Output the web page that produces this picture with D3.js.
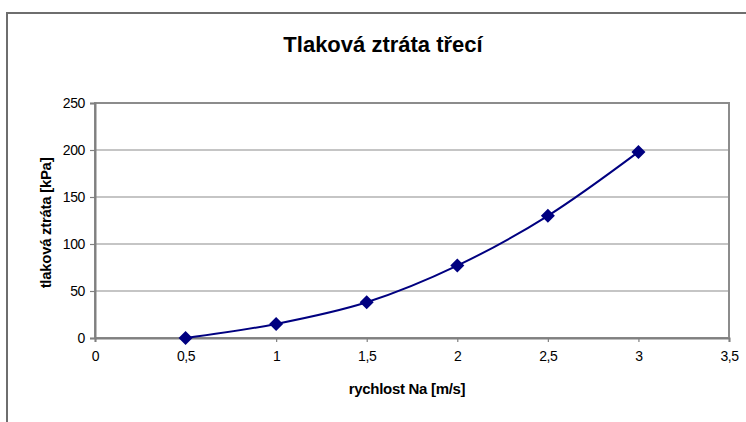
<!DOCTYPE html>
<html>
<head>
<meta charset="utf-8">
<script src="https://cdn.jsdelivr.net/npm/d3@7"></script>
<style>
  html, body { margin: 0; padding: 0; background: #fff; }
  svg { display: block; }
  text { font-family: "Liberation Sans", Arial, sans-serif; fill: #000; }
</style>
</head>
<body>
<svg id="chart" width="746" height="422"></svg>
<script>
const xValues = [0.5, 1, 1.5, 2, 2.5, 3];
const yValues = [0, 15, 38, 77, 130, 198];
const xTicks = [0, 0.5, 1, 1.5, 2, 2.5, 3, 3.5];
const yTicks = [0, 50, 100, 150, 200, 250];
const title = "Tlaková ztráta třecí";
const xTitle = "rychlost Na [m/s]";
const yTitle = "tlaková ztráta [kPa]";

const svg = d3.select("#chart");
const plot = { left: 95, right: 729, top: 103, bottom: 338 };

// outer frame
svg.append("rect")
  .attr("x", 7).attr("y", 13).attr("width", 800).attr("height", 500)
  .attr("fill", "#fff").attr("stroke", "#6e6e6e").attr("stroke-width", 2);

const x = d3.scaleLinear().domain([0, 3.5]).range([plot.left, plot.right]);
const y = d3.scaleLinear().domain([0, 250]).range([plot.bottom, plot.top]);

const fmt = d => String(d).replace(".", ",");

// gridlines
svg.append("g")
  .selectAll("line")
  .data(yTicks.filter(d => d > 0 && d < 250))
  .join("line")
  .attr("x1", plot.left).attr("x2", plot.right)
  .attr("y1", d => y(d)).attr("y2", d => y(d))
  .attr("stroke", "#8c8c8c").attr("stroke-width", 1.2);

// plot border
svg.append("rect")
  .attr("x", plot.left).attr("y", plot.top)
  .attr("width", plot.right - plot.left).attr("height", plot.bottom - plot.top)
  .attr("fill", "none").attr("stroke", "#8c8c8c").attr("stroke-width", 2);

// axes
const xAxis = svg.append("g")
  .attr("transform", `translate(0,${plot.bottom})`)
  .call(d3.axisBottom(x).tickValues(xTicks).tickFormat(fmt).tickSize(4).tickPadding(9));
const yAxis = svg.append("g")
  .attr("transform", `translate(${plot.left},0)`)
  .call(d3.axisLeft(y).tickValues(yTicks).tickFormat(fmt).tickSize(5).tickPadding(5));

[xAxis, yAxis].forEach(a => {
  a.attr("font-size", 14).attr("font-family", "Liberation Sans, Arial, sans-serif");
  a.select(".domain").attr("stroke", "#808080").attr("stroke-width", 2);
  a.selectAll(".tick line").attr("stroke", "#808080").attr("stroke-width", 1.2);
  a.selectAll(".tick text").attr("fill", "#000").attr("letter-spacing", -0.4);
});

// line
const data = xValues.map((v, i) => ({ x: v, y: yValues[i] }));
svg.append("path")
  .datum(data)
  .attr("fill", "none")
  .attr("stroke", "#000080")
  .attr("stroke-width", 2)
  .attr("d", d3.line().x(d => x(d.x)).y(d => y(d.y)).curve(d3.curveCatmullRom.alpha(0)));

// markers
svg.append("g")
  .selectAll("path")
  .data(data)
  .join("path")
  .attr("transform", d => `translate(${x(d.x)},${y(d.y)})`)
  .attr("d", "M0,-7L7,0L0,7L-7,0Z")
  .attr("fill", "#000080");

// titles
svg.append("text")
  .attr("x", 383).attr("y", 52)
  .attr("text-anchor", "middle")
  .attr("font-size", 22).attr("font-weight", "bold")
  .text(title);

svg.append("text")
  .attr("x", 407).attr("y", 394)
  .attr("text-anchor", "middle")
  .attr("font-size", 15).attr("font-weight", "bold")
  .attr("letter-spacing", -0.3)
  .text(xTitle);

svg.append("text")
  .attr("transform", `translate(51,223) rotate(-90)`)
  .attr("text-anchor", "middle")
  .attr("font-size", 15).attr("font-weight", "bold")
  .attr("letter-spacing", -0.3)
  .text(yTitle);
</script>
</body>
</html>
